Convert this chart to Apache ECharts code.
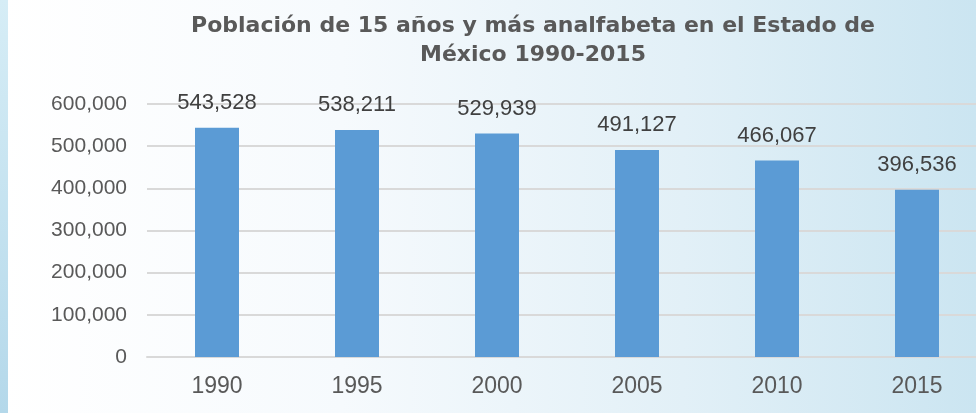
<!DOCTYPE html>
<html lang="es" style="height: 100%">
<head>
    <meta charset="UTF-8">
    <title>Población analfabeta</title>
    <script src="https://cdn.jsdelivr.net/npm/echarts@6/dist/echarts.min.js"></script>
</head>
<body style="height: 100%; margin: 0">
    <div id="main" style="width: 976px; height: 413px"></div>
    <script>
        var years = ['1990', '1995', '2000', '2005', '2010', '2015'];
        var analfabetas = [543528, 538211, 529939, 491127, 466067, 396536];
        var yTicks = [0, 100000, 200000, 300000, 400000, 500000, 600000];

        var chart = echarts.init(document.getElementById('main'));

        // separador de miles con coma
        function fmt(v) {
            return v.toString().replace(/\B(?=(\d{3})+(?!\d))/g, ',');
        }

        var option = {
            animation: false,
            backgroundColor: new echarts.graphic.LinearGradient(0, 0, 1, 0, [
                { offset: 0, color: '#ffffff' },
                { offset: 0.35, color: '#f6fafd' },
                { offset: 0.7, color: '#e2f0f7' },
                { offset: 1, color: '#cbe5f1' }
            ]),
            graphic: [
                {
                    type: 'rect',
                    left: 0, top: 0,
                    shape: { width: 8, height: 413 },
                    style: {
                        fill: new echarts.graphic.LinearGradient(0, 0, 0, 1, [
                            { offset: 0, color: '#d6edf6' },
                            { offset: 1, color: '#b4d8ea' }
                        ])
                    },
                    silent: true
                }
            ],
            title: {
                text: 'Población de 15 años y más analfabeta en el Estado de\nMéxico 1990-2015',
                left: 528,
                top: 7,
                textAlign: 'center',
                textStyle: {
                    fontFamily: 'DejaVu Sans',
                    fontSize: 22,
                    fontWeight: 'bold',
                    color: '#595959',
                    lineHeight: 29
                }
            },
            grid: {
                left: 147,
                top: 104,
                width: 840,
                height: 253,
                outerBoundsMode: 'none'
            },
            xAxis: {
                type: 'category',
                data: years,
                axisTick: { show: false },
                axisLine: { lineStyle: { color: '#d9d9d9', width: 2 } },
                axisLabel: {
                    margin: 18,
                    fontFamily: 'Liberation Sans, Arial',
                    fontSize: 23,
                    color: '#595959'
                }
            },
            yAxis: {
                type: 'value',
                min: yTicks[0],
                max: yTicks[yTicks.length - 1],
                interval: yTicks[1] - yTicks[0],
                axisLine: { show: false },
                axisTick: { show: false },
                splitLine: { lineStyle: { color: '#d9d9d9', width: 2 } },
                axisLabel: {
                    margin: 20,
                    fontFamily: 'Liberation Sans, Arial',
                    fontSize: 21,
                    color: '#595959',
                    formatter: fmt
                }
            },
            series: [
                {
                    type: 'bar',
                    data: analfabetas,
                    barWidth: 44,
                    itemStyle: { color: '#5b9bd5' },
                    label: {
                        show: true,
                        position: 'top',
                        distance: 14,
                        fontFamily: 'Liberation Sans, Arial',
                        fontSize: 22,
                        color: '#404040',
                        formatter: function (p) { return fmt(p.value); }
                    }
                }
            ]
        };
        chart.setOption(option);
    </script>
</body>
</html>
